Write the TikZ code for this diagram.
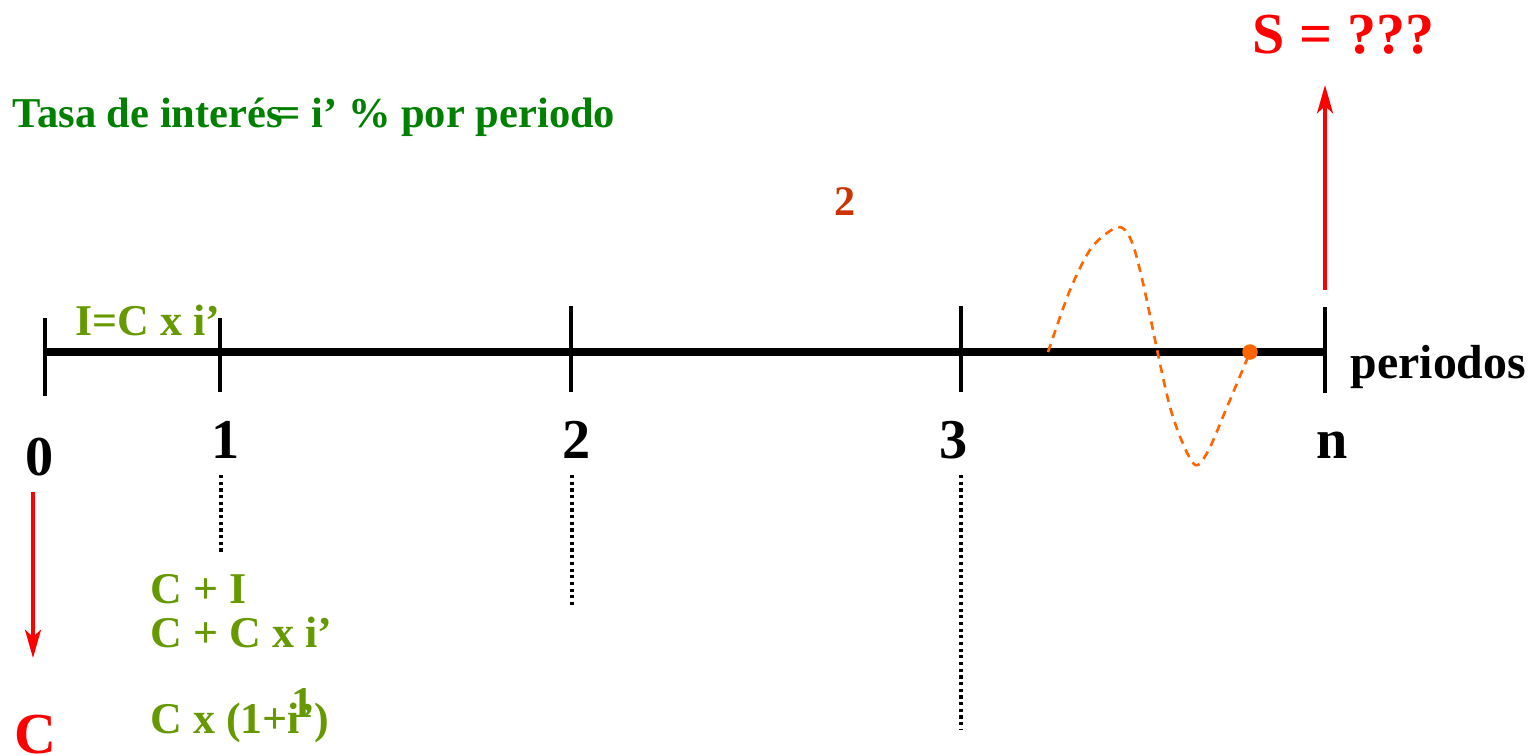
\documentclass[tikz,border=0pt]{standalone}
\usepackage{fontspec}
\setmainfont{Liberation Serif}
\usepackage{tkz-euclide}
\usetikzlibrary{arrows.meta}
\definecolor{TasaClr}{rgb}{0,0.5,0}
\definecolor{FormClr}{rgb}{0.4,0.6,0}
\definecolor{CurveClr}{rgb}{1,0.4,0}
\definecolor{MarkClr}{rgb}{0.8,0.2,0}

\begin{document}
\begin{tikzpicture}[
  num/.style={font=\fontsize{16}{19}\selectfont\bfseries,anchor=base},
  tasa/.style={font=\fontsize{12.1}{14}\selectfont\bfseries,color=TasaClr,anchor=base west,inner sep=0pt},
  form/.style={font=\fontsize{12.5}{15}\selectfont\bfseries,color=FormClr,anchor=base west,inner sep=0pt},
  flow/.style={font=\fontsize{16.5}{20}\selectfont\bfseries,color=red,inner sep=0pt}]
\useasboundingbox (0,0) rectangle (15.34,7.55);
\tkzSetUpLine[line width=2.3pt,color=black,line cap=butt]

\tkzDefPoints{0.45/4.03/O,13.25/4.03/N}
% ticks
\tkzDefPoints{0.45/4.37/P0,0.45/3.59/Q0,2.20/4.37/P1,2.20/3.63/Q1,5.71/4.49/P2,5.71/3.63/Q2}
\tkzDefPoints{9.61/4.49/P3,9.61/3.63/Q3,13.25/4.48/Pn,13.25/3.62/Qn}
% dotted lines
\tkzDefPoints{2.21/2.80/U1,2.21/2.00/V1,5.72/2.80/U2,5.72/1.47/V2,9.61/2.80/U3,9.61/0.25/V3}
% cash flows
\tkzDefPoints{0.33/2.63/C0,0.33/0.97/C1,13.25/4.65/S0,13.25/6.70/S1}
% curve ends
\tkzDefPoints{10.48/4.03/W0,12.50/4.03/W1}

\tkzDrawSegment(O,N)
\tkzDrawSegments[line width=1.15pt](P0,Q0 P1,Q1 P2,Q2 P3,Q3 Pn,Qn)
\tkzDrawSegments[line width=0.9pt,densely dotted](U1,V1 U2,V2 U3,V3)
\tkzDrawSegments[line width=1.2pt,color=red,-{Stealth[length=8pt,width=4.5pt,inset=2pt]}](C0,C1 S0,S1)

\draw[CurveClr,line width=0.75pt,dash pattern=on 2.4pt off 1.8pt]
  plot[smooth,tension=0.5] coordinates {(W0) (10.70,4.65) (10.92,5.08) (11.18,5.28) (11.31,5.15)
  (11.43,4.72) (11.70,3.48) (11.93,2.92) (12.07,3.02) (12.27,3.48) (W1)};
\tkzDrawPoints[size=4,color=CurveClr,fill=CurveClr](W1)

\node[num] (n0) at (0.40,2.80) {0};
\node[num] (n1) at (2.26,2.97) {1};
\node[num] (n2) at (5.77,2.97) {2};
\node[num] (n3) at (9.54,2.97) {3};
\node[num] (nn) at (13.32,2.97) {n};
\node[font=\fontsize{13.6}{17}\selectfont\bfseries,anchor=base west,inner sep=0pt] (per) at (13.50,3.77) {periodos};

\node[tasa] (tasa) at (0.12,6.28) {Tasa de interés};
\node[tasa] (tasaval) at (2.76,6.28) {= i' \% por periodo};
\node[font=\fontsize{12}{14}\selectfont\bfseries,color=MarkClr,anchor=base] (two) at (8.45,5.40) {2};

\node[form] (icx) at (0.75,4.20) {I=C x i'};
\node[form] (f1) at (1.50,1.52) {C + I};
\node[form] (f2) at (1.50,1.08) {C + C x i'};
\node[form] (f3) at (1.50,0.22) {C x (1+i')};
\node[form,anchor=base] (f3e) at (3.02,0.38) {1};

\node[flow,anchor=base] (cap) at (0.35,0.02) {C};
\node[flow,anchor=base west] (sum) at (12.52,7.02) {S = ???};
\end{tikzpicture}
\end{document}
